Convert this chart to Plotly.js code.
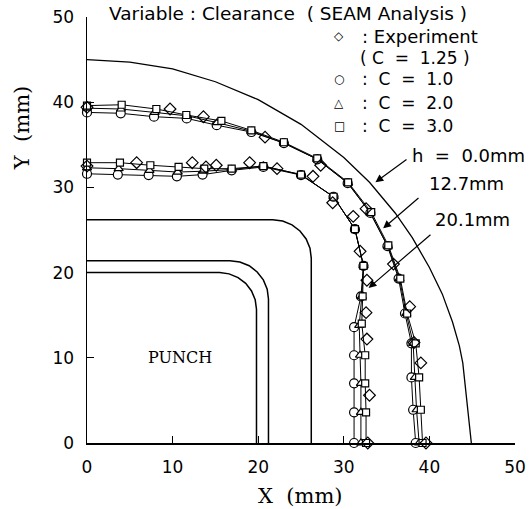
<!DOCTYPE html>
<html>
<head>
<meta charset="utf-8">
<script src="https://cdn.plot.ly/plotly-3.0.1.min.js"></script>
<style>html,body{margin:0;padding:0;background:#fff;}</style>
</head>
<body>
<div id="chart" style="width:530px;height:509px;"></div>
<script>
// ---- outer contour h = 0.0 mm ----
const arcX = [0, 5, 10, 15, 20, 25, 30, 33, 36, 38, 40, 41.5, 42.7, 43.5, 43.9, 44.4, 44.9];
const arcY = [45, 44.7, 43.9, 42.4, 40.3, 37.4, 33.5, 30.6, 27.0, 24.1, 20.6, 17.5, 14.2, 11.4, 9.4, 4.7, 0];

// ---- punch / die outlines ----
const die1X = [0, 21.7, 22.86, 23.95, 24.88, 25.6, 26.05, 26.2, 26.2];
const die1Y = [26.2, 26.2, 26.05, 25.6, 24.88, 23.95, 22.86, 21.7, 0];
const die2X = [0, 16.7, 17.86, 18.95, 19.88, 20.6, 21.05, 21.2, 21.2];
const die2Y = [21.4, 21.4, 21.25, 20.8, 20.08, 19.15, 18.06, 16.9, 0];
const punchX = [0, 15.5, 16.6, 17.65, 18.54, 19.22, 19.65, 19.8, 19.8];
const punchY = [20, 20, 19.85, 19.42, 18.74, 17.85, 16.81, 15.7, 0];

// ---- h = 12.7 mm ----
const expHiX = [0, 9.7, 13.6, 20.8, 27.3, 32.6, 35.8, 37.7, 38.2, 39.0, 39.6];
const expHiY = [39.4, 39.2, 38.3, 35.9, 32.6, 27.5, 21.0, 16.0, 11.8, 9.4, 0];
const c1HiX = [0, 3.94, 7.83, 11.65, 15.15, 19.2, 23.0, 26.9, 30.45, 33.1, 35.1, 36.4, 37.15, 37.9, 37.9, 38.1, 38.4];
const c1HiY = [38.8, 38.7, 38.3, 38.1, 37.3, 36.5, 35.2, 33.3, 30.5, 27.0, 23.1, 19.3, 15.2, 11.7, 7.7, 3.9, 0];
const c2HiX = [0, 3.97, 7.9, 11.7, 15.2, 19.2, 23.0, 26.9, 30.5, 33.1, 35.15, 36.5, 37.3, 38.1, 38.3, 38.5, 38.8];
const c2HiY = [39.3, 39.2, 38.8, 38.4, 37.6, 36.6, 35.2, 33.3, 30.5, 27.0, 23.1, 19.3, 15.2, 11.7, 7.7, 3.9, 0];
const c3HiX = [0, 4.05, 8.1, 11.6, 15.7, 19.2, 23.0, 26.9, 30.5, 33.2, 35.2, 36.6, 37.4, 38.4, 38.8, 39.0, 39.2];
const c3HiY = [39.6, 39.7, 39.2, 38.5, 37.8, 36.7, 35.3, 33.4, 30.6, 27.1, 23.2, 19.3, 15.2, 11.7, 7.7, 3.9, 0];

// ---- h = 20.1 mm ----
const expLoX = [0, 5.8, 12.3, 13.9, 15.1, 19.0, 22.2, 26.4, 28.7, 31.1, 31.9, 32.7, 32.6, 32.7, 33.0, 32.8];
const expLoY = [32.5, 32.9, 32.9, 32.4, 32.6, 32.9, 32.2, 31.3, 28.2, 26.6, 22.5, 19.1, 15.3, 12.2, 5.6, 0];
const c1LoX = [0, 3.6, 7.2, 10.5, 13.5, 16.9, 20.6, 25.0, 28.8, 31.3, 32.3, 32.0, 31.2, 31.2, 31.2, 31.2, 31.2];
const c1LoY = [31.6, 31.5, 31.45, 31.3, 31.5, 32.0, 32.4, 31.45, 28.9, 25.1, 20.8, 17.2, 13.6, 10.3, 7.0, 3.6, 0];
const c2LoX = [0, 3.7, 7.3, 10.6, 13.6, 16.9, 20.6, 25.0, 28.8, 31.3, 32.3, 32.1, 31.8, 31.9, 32.0, 32.0, 32.0];
const c2LoY = [32.3, 32.2, 32.0, 31.8, 31.9, 32.1, 32.5, 31.5, 28.9, 25.1, 20.8, 17.2, 13.8, 10.3, 7.0, 3.6, 0];
const c3LoX = [0, 3.85, 7.4, 10.7, 13.7, 16.9, 20.6, 25.0, 28.8, 31.3, 32.3, 32.2, 32.1, 32.5, 32.5, 32.6, 32.6];
const c3LoY = [32.9, 32.9, 32.6, 32.4, 32.2, 32.2, 32.5, 31.5, 28.9, 25.1, 20.8, 17.2, 14.0, 10.3, 7.0, 3.6, 0];

// ---- text ----
const tickVals = [0, 10, 20, 30, 40, 50];
const tickText = ['0', '10', '20', '30', '40', '50'];
const titleText = 'Variable : Clearance  ( SEAM Analysis )';
const legendSymbols = ['\u25C7', '\u25CB', '\u25B3', '\u25A1'];
const legendLabels = [': Experiment', ':  C  =  1.0', ':  C  =  2.0', ':  C  =  3.0'];
const expNote = '( C  =  1.25 )';
const curveLabels = ['h  =  0.0mm', '12.7mm', '20.1mm'];

const K = 'black';
function line(x, y, w) {
  return {x: x, y: y, mode: 'lines', line: {color: K, width: w}, cliponaxis: false, hoverinfo: 'skip'};
}
function sim(x, y, sym, size) {
  return {x: x, y: y, mode: 'lines+markers', line: {color: K, width: 1},
    marker: {symbol: sym, size: size, color: 'white', line: {color: K, width: 1.2}}, cliponaxis: false};
}
function exp(x, y) {
  return {x: x, y: y, mode: 'markers',
    marker: {symbol: 'diamond-open', size: 9, color: K, line: {color: K, width: 1.2}}, cliponaxis: false};
}

const data = [
  line(arcX, arcY, 1.3),
  line(die1X, die1Y, 1.5),
  line(die2X, die2Y, 1.5),
  line(punchX, punchY, 1.5),
  sim(c1HiX, c1HiY, 'circle', 9),
  sim(c2HiX, c2HiY, 'triangle-up', 8),
  sim(c3HiX, c3HiY, 'square', 7),
  exp(expHiX, expHiY),
  sim(c1LoX, c1LoY, 'circle', 9),
  sim(c2LoX, c2LoY, 'triangle-up', 8),
  sim(c3LoX, c3LoY, 'square', 7),
  exp(expLoX, expLoY)
];

const sansF = {family: 'DejaVu Sans', size: 17, color: K};
const sansL = {family: 'DejaVu Sans', size: 18, color: K};
const serifF = {family: 'DejaVu Serif', size: 21, color: K};

const ann = [];
function txt(x, y, t, font, xanchor, extra) {
  ann.push(Object.assign({x: x, y: y, xref: 'x', yref: 'y', text: t, showarrow: false,
    font: font, xanchor: xanchor || 'left', yanchor: 'middle'}, extra || {}));
}
// title sits above the plotting area -> paper coordinates
ann.push({xref: 'paper', yref: 'paper', x: 0.047, y: 1.009, text: titleText, showarrow: false,
  font: {family: 'DejaVu Sans', size: 18.5, color: K}, xanchor: 'left', yanchor: 'middle'});
const rowsY = [47.75, 42.72, 39.9, 37.2];
for (let i = 0; i < 4; i++) {
  txt(29.44, rowsY[i], legendSymbols[i], {family: 'DejaVu Sans', size: 12, color: K}, 'center');
  txt(31.9, rowsY[i], legendLabels[i], i === 0 ? sansL : sansF);
}
txt(31.66, 45.2, expNote, sansF);
txt(37.73, 33.8, curveLabels[0], sansL);
txt(39.7, 30.5, curveLabels[1], sansL);
txt(40.4, 26.2, curveLabels[2], sansL);
txt(10.9, 10.0, 'PUNCH', {family: 'DejaVu Serif', size: 16, color: K}, 'center');
function arrow(x, y, ax, ay) {
  ann.push({x: x, y: y, ax: ax, ay: ay, xref: 'x', yref: 'y', axref: 'x', ayref: 'y', text: '',
    showarrow: true, arrowhead: 2, arrowsize: 1.3, arrowwidth: 1.2, arrowcolor: K});
}
arrow(33.7, 30.6, 37.5, 33.4);
arrow(34.6, 25.2, 38.9, 28.9);
arrow(32.9, 18.2, 40.3, 24.6);
// axis titles
ann.push({xref: 'paper', yref: 'paper', x: 0.498, y: -0.125, text: 'X  (mm)', showarrow: false,
  font: serifF, xanchor: 'center', yanchor: 'middle'});
ann.push({xref: 'paper', yref: 'paper', x: -0.152, y: 0.739, text: 'Y  (mm)', showarrow: false,
  font: serifF, textangle: -90, xanchor: 'center', yanchor: 'middle'});

const axisBase = {
  range: [0, 50], tickvals: tickVals, ticktext: tickText, ticks: 'inside', ticklen: 7, tickwidth: 1.2,
  tickcolor: K, showline: true, linecolor: K, linewidth: 1.5, showgrid: false, zeroline: false,
  tickfont: {family: 'DejaVu Sans', size: 17, color: K}, ticklabelstandoff: 8, mirror: false
};

const layout = {
  width: 530, height: 509,
  margin: {l: 87, r: 15, t: 17, b: 66},
  paper_bgcolor: 'white', plot_bgcolor: 'white',
  showlegend: false,
  xaxis: Object.assign({}, axisBase),
  yaxis: Object.assign({}, axisBase),
  annotations: ann
};

Plotly.newPlot('chart', data, layout, {displayModeBar: false, staticPlot: true});
</script>
</body>
</html>
